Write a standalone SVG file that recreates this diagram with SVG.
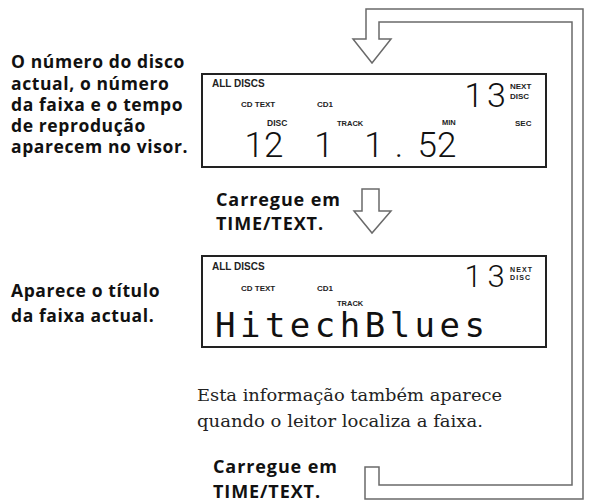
<svg xmlns="http://www.w3.org/2000/svg" width="590" height="504" viewBox="0 0 590 504">
<style>
.lbl{font-family:"Open Sans","Liberation Sans",sans-serif;font-weight:bold;font-size:17.5px;letter-spacing:0.6px;fill:#111}
.lbl2{font-family:"Open Sans","Liberation Sans",sans-serif;font-weight:bold;font-size:18px;letter-spacing:0.9px;fill:#111}
.note{font-family:"DejaVu Serif","Liberation Serif",serif;font-size:16px;fill:#222}
.lcd{fill:#fff;stroke:#222;stroke-width:2}
.sm{font-family:"Liberation Sans",Arial,sans-serif;font-weight:bold;fill:#222}
.dig{font-family:Roboto,"Liberation Sans",sans-serif;font-weight:300;fill:#111;text-anchor:middle}
.mono{font-family:"DejaVu Sans Mono","Liberation Mono",monospace;fill:#111}
.con{fill:#fff;stroke:#6a6a6a;stroke-width:1.5;stroke-linejoin:miter}
</style>
<rect width="590" height="504" fill="#fff"/>

<g id="connectors">
  <polygon class="con" points="365,467 379,467 379,485 572,485 572,22 379,22 379,39 391,39 372,63 353,39 366,39 366,9 583,9 583,499 365,499"/>
  <polygon class="con" points="362,189 379,189 379,211 391,211 372,233 354,211 362,211"/>
</g>

<g id="label-1">
  <text class="lbl" x="11" y="68">O número do disco</text>
  <text class="lbl" x="11" y="89.5">actual, o número</text>
  <text class="lbl" x="11" y="110.5">da faixa e o tempo</text>
  <text class="lbl" x="11" y="132">de reprodução</text>
  <text class="lbl" x="11" y="153">aparecem no visor.</text>
</g>

<g id="display-1">
  <rect class="lcd" x="202" y="74" width="344" height="93"/>
  <text class="sm" x="212" y="87" font-size="10">ALL DISCS</text>
  <text class="sm" x="241" y="107" font-size="8">CD TEXT</text>
  <text class="sm" x="317" y="107" font-size="8">CD1</text>
  <text class="sm" x="267" y="126" font-size="8.5">DISC</text>
  <text class="sm" x="337" y="126" font-size="7.5">TRACK</text>
  <text class="sm" x="442" y="125" font-size="7.5">MIN</text>
  <text class="sm" x="515" y="126" font-size="8">SEC</text>
  <text class="sm" x="510" y="89" font-size="8">NEXT</text>
  <text class="sm" x="510" y="99" font-size="8">DISC</text>
  <text class="dig" x="474" y="107" font-size="34">1</text>
  <text class="dig" x="496.5" y="107" font-size="34">3</text>
  <text class="dig" x="264" y="157" font-size="35">12</text>
  <text class="dig" x="324" y="157" font-size="35">1</text>
  <text class="dig" x="374" y="157" font-size="35">1</text>
  <text class="dig" x="399" y="157" font-size="35">.</text>
  <text class="dig" x="437" y="157" font-size="35">52</text>
</g>

<g id="label-press-1">
  <text class="lbl2" x="216" y="206">Carregue em</text>
  <text class="lbl2" x="216" y="230">TIME/TEXT.</text>
</g>

<g id="label-2">
  <text class="lbl" x="11" y="297">Aparece o título</text>
  <text class="lbl" x="11" y="322">da faixa actual.</text>
</g>

<g id="display-2">
  <rect class="lcd" x="202" y="256" width="344" height="91"/>
  <text class="sm" x="212" y="270" font-size="10">ALL DISCS</text>
  <text class="sm" x="241" y="290.5" font-size="8">CD TEXT</text>
  <text class="sm" x="317" y="290.5" font-size="8">CD1</text>
  <text class="sm" x="337" y="305.5" font-size="7.5">TRACK</text>
  <text class="sm" x="510" y="272" font-size="7" textLength="22">NEXT</text>
  <text class="sm" x="510" y="279.5" font-size="7" textLength="20">DISC</text>
  <text class="dig" x="473" y="287" font-size="31">1</text>
  <text class="dig" x="496" y="287" font-size="31">3</text>
  <text class="mono" x="215" y="337" font-size="34" textLength="270" lengthAdjust="spacing">HitechBlues</text>
</g>

<g id="note">
  <text class="note" x="197" y="400.5" textLength="305" lengthAdjust="spacingAndGlyphs">Esta informação também aparece</text>
  <text class="note" x="197" y="427" textLength="286" lengthAdjust="spacingAndGlyphs">quando o leitor localiza a faixa.</text>
</g>

<g id="label-press-2">
  <text class="lbl2" x="213" y="473">Carregue em</text>
  <text class="lbl2" x="213" y="498">TIME/TEXT.</text>
</g>
</svg>
